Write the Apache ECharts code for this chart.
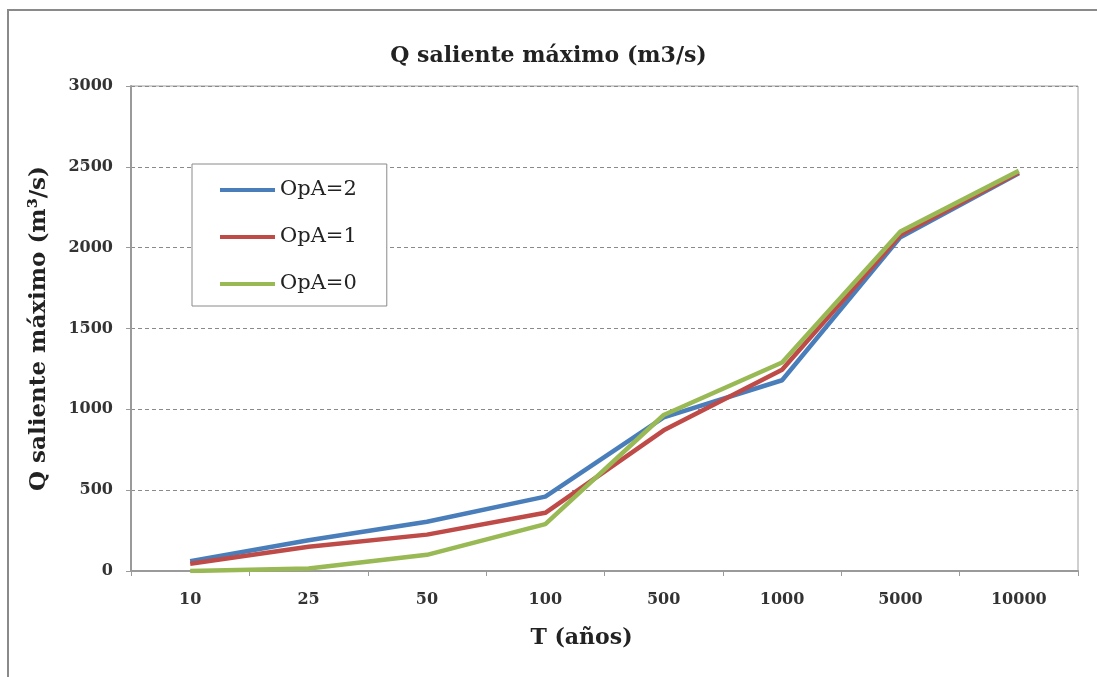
<!DOCTYPE html>
<html>
<head>
<meta charset="utf-8">
<script src="https://cdn.jsdelivr.net/npm/echarts@6/dist/echarts.min.js"></script>
<style>
html,body{margin:0;padding:0;background:#fff;overflow:hidden;}
#chart{width:1097px;height:677px;}
</style>
</head>
<body>
<div id="chart"></div>
<script>
const categories = ['10', '25', '50', '100', '500', '1000', '5000', '10000'];
const seriesNames = ['OpA=2', 'OpA=1', 'OpA=0'];
const opa2 = [60, 190, 305, 460, 950, 1180, 2065, 2460];
const opa1 = [45, 150, 225, 360, 870, 1245, 2080, 2465];
const opa0 = [0, 15, 100, 290, 965, 1290, 2100, 2475];
const yTicks = [0, 500, 1000, 1500, 2000, 2500, 3000];

const colors = ['#4a7ebb', '#be4b48', '#98b954'];
const serif = 'DejaVu Serif';

const chart = echarts.init(document.getElementById('chart'), null, {renderer: 'canvas'});
chart.setOption({
  animation: false,
  backgroundColor: '#fff',
  title: {
    text: 'Q saliente máximo (m3/s)',
    left: 'center',
    top: 40,
    textStyle: {fontFamily: serif, fontWeight: 'bold', fontSize: 22, color: '#222'}
  },
  graphic: [{
    type: 'rect',
    shape: {x: 8, y: 10, width: 3000, height: 3000},
    style: {fill: 'none', stroke: '#8a8a8a', lineWidth: 2},
    silent: true
  }],
  legend: {
    orient: 'vertical',
    left: 192,
    top: 164,
    data: seriesNames,
    icon: 'rect',
    itemWidth: 55,
    itemHeight: 4,
    itemGap: 23,
    padding: [14, 30, 10, 28],
    borderColor: '#8a8a8a',
    borderWidth: 1,
    backgroundColor: '#fff',
    textStyle: {fontFamily: serif, fontSize: 21, color: '#222', lineHeight: 24}
  },
  grid: {
    left: 131, right: 19, top: 86, bottom: 106,
    show: true, borderColor: '#a0a0a0', borderWidth: 1, backgroundColor: 'transparent'
  },
  xAxis: {
    type: 'category',
    data: categories,
    boundaryGap: true,
    name: 'T (años)',
    nameLocation: 'middle',
    nameGap: 56,
    nameTextStyle: {fontFamily: serif, fontWeight: 'bold', fontSize: 22, color: '#222', padding: [0, 46, 0, 0]},
    axisLine: {lineStyle: {color: '#9a9a9a', width: 2}},
    axisTick: {show: true, alignWithLabel: false, length: 5, lineStyle: {color: '#9a9a9a'}},
    axisLabel: {fontFamily: serif, fontWeight: 'bold', fontSize: 16, color: '#333', margin: 21}
  },
  yAxis: {
    type: 'value',
    min: 0,
    max: 3000,
    interval: 500,
    name: 'Q saliente máximo (m³/s)',
    nameLocation: 'middle',
    nameGap: 80,
    nameTextStyle: {fontFamily: serif, fontWeight: 'bold', fontSize: 23, color: '#222'},
    axisLine: {show: true, lineStyle: {color: '#9a9a9a', width: 2}},
    axisTick: {show: true, length: 5, lineStyle: {color: '#9a9a9a'}},
    axisLabel: {fontFamily: serif, fontWeight: 'bold', fontSize: 16, color: '#333', margin: 18,
      formatter: v => yTicks.includes(v) ? String(v) : ''},
    splitLine: {show: true, lineStyle: {color: '#8a8a8a', type: [4, 3], width: 1}}
  },
  series: [
    {name: seriesNames[0], type: 'line', data: opa2, symbol: 'none', color: colors[0], lineStyle: {width: 4.5, color: colors[0]}},
    {name: seriesNames[1], type: 'line', data: opa1, symbol: 'none', color: colors[1], lineStyle: {width: 4.5, color: colors[1]}},
    {name: seriesNames[2], type: 'line', data: opa0, symbol: 'none', color: colors[2], lineStyle: {width: 4.5, color: colors[2]}}
  ]
});
</script>
</body>
</html>
